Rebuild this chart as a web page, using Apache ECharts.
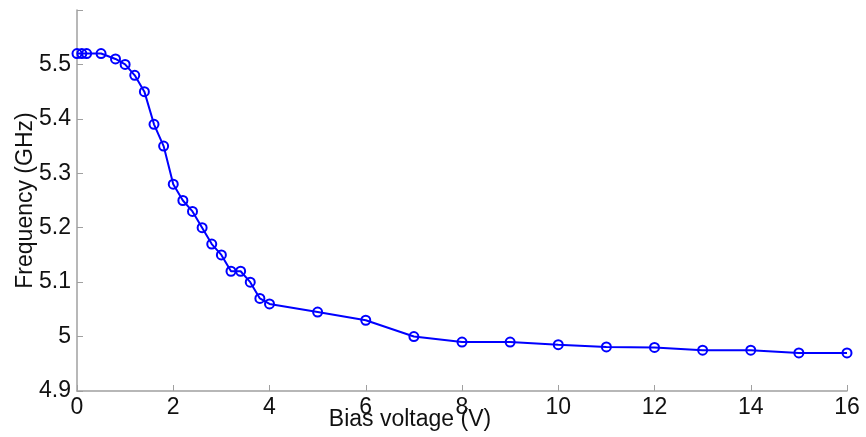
<!DOCTYPE html>
<html>
<head>
<meta charset="utf-8">
<script src="https://cdn.jsdelivr.net/npm/echarts@6/dist/echarts.min.js"></script>
<style>html,body{margin:0;padding:0;background:#fff}#c{width:866px;height:437px}</style>
</head>
<body>
<div id="c"></div>
<script>
const biasVoltage = [0, 0.1, 0.2, 0.5, 0.8, 1.0, 1.2, 1.4, 1.6, 1.8, 2.0, 2.2, 2.4, 2.6, 2.8, 3.0, 3.2, 3.4, 3.6, 3.8, 4.0, 5, 6, 7, 8, 9, 10, 11, 12, 13, 14, 15, 16];
const frequency = [5.52, 5.52, 5.52, 5.52, 5.51, 5.50, 5.48, 5.45, 5.39, 5.35, 5.28, 5.25, 5.23, 5.20, 5.17, 5.15, 5.12, 5.12, 5.10, 5.07, 5.06, 5.045, 5.03, 5.00, 4.99, 4.99, 4.985, 4.981, 4.98, 4.975, 4.975, 4.97, 4.97];
const xTitle = 'Bias voltage (V)';
const yTitle = 'Frequency (GHz)';

const chart = echarts.init(document.getElementById('c'));
const axisColor = '#a0a0a0';
chart.setOption({
  animation: false,
  grid: {left: 77, right: 19, top: 10, bottom: 46, containLabel: false, outerBoundsMode: 'none'},
  xAxis: {
    type: 'value', min: 0, max: 16, interval: 2,
    name: xTitle, nameLocation: 'middle', nameGap: 17, nameMoveOverlap: false,
    nameTextStyle: {fontFamily: 'Liberation Sans', fontSize: 23, color: '#111', padding: [0, 104, 0, 0]},
    axisLine: {show: true, onZero: false, lineStyle: {color: axisColor, width: 1.5}},
    axisTick: {show: true, inside: true, length: 6, lineStyle: {color: axisColor}},
    axisLabel: {fontFamily: 'Liberation Sans', fontSize: 23, color: '#111', margin: 5, hideOverlap: false},
    splitLine: {show: false}
  },
  yAxis: {
    type: 'value', min: 4.9, max: 5.6, interval: 0.1,
    name: yTitle, nameLocation: 'middle', nameGap: 40, nameRotate: 90, nameMoveOverlap: false,
    nameTextStyle: {fontFamily: 'Liberation Sans', fontSize: 23, color: '#111'},
    axisLine: {show: true, lineStyle: {color: axisColor, width: 1.5}},
    axisTick: {show: true, inside: true, length: 6, lineStyle: {color: axisColor}},
    axisLabel: {
      fontFamily: 'Liberation Sans', fontSize: 23, color: '#111', margin: 6, hideOverlap: false,
      formatter: function (v) {
        const r = Math.round(v * 10) / 10;
        if (r >= 5.6) return '';
        return r === 5 ? '5' : r.toFixed(1);
      }
    },
    splitLine: {show: false}
  },
  series: [{
    type: 'line',
    data: biasVoltage.map((x, i) => [x, frequency[i]]),
    lineStyle: {color: '#0000ff', width: 2},
    symbol: 'circle', symbolSize: 9,
    itemStyle: {color: 'transparent', borderColor: '#0000ff', borderWidth: 2},
    showAllSymbol: true
  }]
});
</script>
</body>
</html>
